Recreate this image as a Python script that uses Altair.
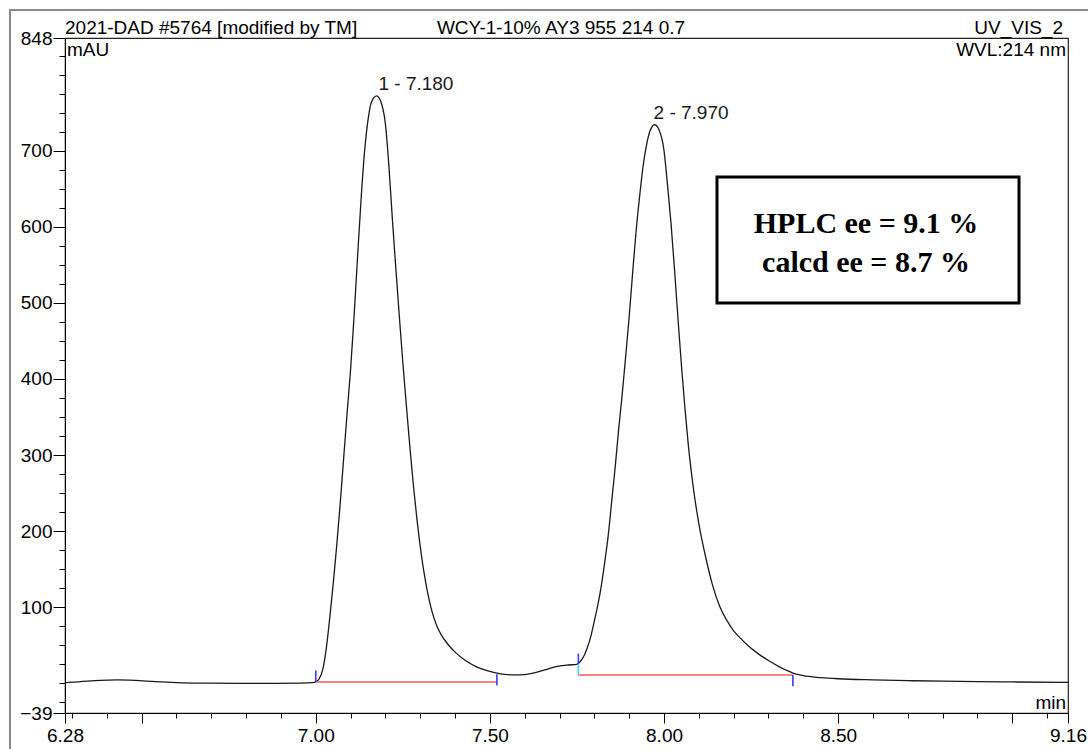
import altair as alt
import pandas as pd

# ---------------- data ----------------
time_min = [6.28, 6.32, 6.38, 6.43, 6.48, 6.54, 6.60, 6.68, 6.78, 6.88, 6.96, 6.99,
            7.00, 7.01, 7.02, 7.03, 7.04, 7.05, 7.06, 7.07, 7.08, 7.09, 7.10, 7.11, 7.12,
            7.13, 7.14, 7.15, 7.16, 7.175, 7.19, 7.20, 7.21, 7.22, 7.23, 7.24, 7.25, 7.26,
            7.27, 7.28, 7.29, 7.30, 7.31, 7.32, 7.33, 7.34, 7.35, 7.36, 7.38, 7.40, 7.43, 7.46,
            7.49, 7.52, 7.55, 7.57, 7.60, 7.63, 7.66, 7.69, 7.72, 7.75,
            7.76, 7.77, 7.78, 7.79, 7.80, 7.81, 7.82, 7.83, 7.84, 7.85, 7.86, 7.87, 7.88,
            7.89, 7.90, 7.91, 7.92, 7.93, 7.94, 7.95, 7.96, 7.973, 7.985, 8.00, 8.01, 8.02,
            8.03, 8.04, 8.05, 8.06, 8.07, 8.08, 8.09, 8.10, 8.12, 8.14, 8.16, 8.18, 8.20,
            8.22, 8.24, 8.27, 8.30, 8.33, 8.35, 8.37, 8.40, 8.45, 8.50, 8.60, 8.70, 8.80,
            8.90, 9.00, 9.16]
absorb_mau = [1.0, 2.0, 3.8, 4.4, 3.8, 2.2, 1.0, 0.3, 0.0, 0.0, 0.3, 1.0,
              2, 6, 18, 45, 85, 130, 180, 235, 295, 355, 412, 482, 560,
              635, 698, 740, 764, 772, 760, 735, 680, 610, 545, 482, 422, 366,
              312, 262, 218, 180, 148, 122, 101, 85, 73, 64, 51, 41, 30, 22,
              17, 13.5, 11.5, 11, 11.5, 14, 18, 22, 24, 25,
              29, 36, 47, 62, 82, 103, 128, 160, 195, 240, 285, 335, 380,
              430, 482, 540, 595, 640, 680, 708, 726, 734, 728, 700, 655, 605,
              545, 480, 418, 362, 312, 272, 238, 210, 165, 128, 101, 83, 69,
              59, 50, 39, 30, 22, 17.5, 13.5, 10, 7.5, 6.0, 4.5, 3.5, 2.8,
              2.2, 1.8, 1.2]

peak_time = [7.180, 7.970]
peak_height = [772, 734]
peak_label = ["1 - 7.180", "2 - 7.970"]

base_start = [7.00, 7.754]
base_end = [7.52, 8.37]
base_level = [1.7, 11.0]

mark_time = [7.00, 7.52, 7.754, 8.37]
mark_lo = [2, -3, 25, -4]
mark_hi = [17, 12, 39, 11]
cyan_time = [7.754]
cyan_lo = [11]
cyan_hi = [25]

x_major = [6.28, 6.5, 7.0, 7.5, 8.0, 8.5, 9.0, 9.16]
x_minor = [6.3, 6.4, 6.6, 6.7, 6.8, 6.9, 7.1, 7.2, 7.3, 7.4, 7.6, 7.7, 7.8, 7.9,
           8.1, 8.2, 8.3, 8.4, 8.6, 8.7, 8.8, 8.9, 9.1]
y_major = [-39, 100, 200, 300, 400, 500, 600, 700, 848]
y_minor = [-25, 0, 25, 50, 75, 125, 150, 175, 225, 250, 275, 325, 350, 375, 425,
           450, 475, 525, 550, 575, 625, 650, 675, 725, 750, 775, 800, 825]

header_left = "2021-DAD #5764 [modified by TM]"
header_mid = "WCY-1-10% AY3 955 214 0.7"
header_right = "UV_VIS_2"
y_unit = "mAU"
wvl_text = "WVL:214 nm"
x_unit = "min"
box_lines = ["HPLC ee = 9.1 %", "calcd ee = 8.7 %"]

# ---------------- chart ----------------
FONT = "Liberation Sans"
FS = 19
W, H = 1003, 675
xs = alt.Scale(domain=[6.28, 9.16], nice=False, zero=False)
ys = alt.Scale(domain=[-39, 848], nice=False, zero=False)

trace = pd.DataFrame({"t": time_min, "a": absorb_mau})
one = pd.DataFrame({"k": [0]})

axis_common = dict(title=None, grid=False, domainColor="black", tickColor="black",
                   labelColor="black", labelFont=FONT, labelFontSize=FS, tickWidth=1)

line = alt.Chart(trace).mark_line(color="#1a1a1a", strokeWidth=1.3, interpolate="monotone").encode(
    x=alt.X("t:Q", scale=xs, axis=alt.Axis(
        values=x_major, tickSize=10, labelPadding=3, format=".2f", orient="bottom",
        labelFlush=False, labelOverlap=False, labelBound=False,
        labelExpr="(abs(datum.value-6.5)<0.001 || abs(datum.value-9.0)<0.001) ? '' : datum.label",
        **axis_common)),
    y=alt.Y("a:Q", scale=ys, axis=alt.Axis(
        values=y_major, tickSize=12, labelPadding=1, format="d", orient="left",
        labelOverlap=False, labelBound=False, **axis_common)),
)

minor = alt.Chart(trace).mark_point(opacity=0).encode(
    x=alt.X("t:Q", scale=xs, axis=alt.Axis(values=x_minor, tickSize=5, labels=False,
                                           domain=False, orient="bottom", title=None,
                                           grid=False, tickColor="black")),
    y=alt.Y("a:Q", scale=ys, axis=alt.Axis(values=y_minor, tickSize=6, labels=False,
                                           domain=False, orient="left", title=None,
                                           grid=False, tickColor="black")),
)

base_df = pd.DataFrame({"s": base_start, "e": base_end, "v": base_level})
baselines = alt.Chart(base_df).mark_rule(color="#ff5a5a", strokeWidth=1.6).encode(
    x=alt.X("s:Q", scale=xs, axis=None), x2="e:Q",
    y=alt.Y("v:Q", scale=ys, axis=None),
)

mk_df = pd.DataFrame({"t": mark_time, "lo": mark_lo, "hi": mark_hi})
markers = alt.Chart(mk_df).mark_rule(color="#3b3bff", strokeWidth=1.6).encode(
    x=alt.X("t:Q", scale=xs, axis=None),
    y=alt.Y("lo:Q", scale=ys, axis=None), y2="hi:Q",
)
cy_df = pd.DataFrame({"t": cyan_time, "lo": cyan_lo, "hi": cyan_hi})
cyan = alt.Chart(cy_df).mark_rule(color="#33dede", strokeWidth=1.6).encode(
    x=alt.X("t:Q", scale=xs, axis=None),
    y=alt.Y("lo:Q", scale=ys, axis=None), y2="hi:Q",
)

pk_df = pd.DataFrame({"t": peak_time, "a": peak_height, "lab": peak_label})
peaks = alt.Chart(pk_df).mark_text(font=FONT, fontSize=FS, align="left",
                                   baseline="alphabetic", dx=0, dy=-6, color="#1a1a1a").encode(
    x=alt.X("t:Q", scale=xs, axis=None),
    y=alt.Y("a:Q", scale=ys, axis=None),
    text="lab:N",
)

def label(txt, x, y, align, baseline="alphabetic", size=FS, font=FONT, weight="normal"):
    return alt.Chart(pd.DataFrame({"txt": [txt]})).mark_text(
        font=font, fontSize=size, align=align, baseline=baseline, color="black",
        fontWeight=weight).encode(x=alt.value(x), y=alt.value(y), text="txt:N")

page_frame = alt.Chart(one).mark_rect(filled=False, stroke="#8a8a8a", strokeWidth=2).encode(
    x=alt.value(-55), x2=alt.value(1200), y=alt.value(-28), y2=alt.value(900))

box = alt.Chart(one).mark_rect(fill="white", stroke="black", strokeWidth=3).encode(
    x=alt.value(652), x2=alt.value(954), y=alt.value(139), y2=alt.value(265))

layers = [
    page_frame,
    line, minor, baselines, markers, cyan, peaks,
    label(header_left, 0, -4, "left"),
    label(header_mid, 496, -4, "center"),
    label(header_right, 998, -4, "right"),
    label(y_unit, 2, 12, "left", baseline="middle"),
    label(wvl_text, 1001, 12, "right", baseline="middle"),
    label(x_unit, 1001, 665, "right", baseline="middle"),
    box,
    label(box_lines[0], 801, 195, "center", size=30, font="Liberation Serif", weight="bold"),
    label(box_lines[1], 801, 234, "center", size=30, font="Liberation Serif", weight="bold"),
]

chart = alt.layer(*layers).resolve_axis(x="independent", y="independent").properties(
    width=W, height=H,
    autosize=alt.AutoSizeParams(type="none"),
    padding={"left": 65, "top": 38, "right": 20, "bottom": 36},
    background="white",
).configure_view(stroke="#222222", strokeWidth=1.2)

chart.save("out.html", embed_options={"renderer": "svg", "actions": False})
